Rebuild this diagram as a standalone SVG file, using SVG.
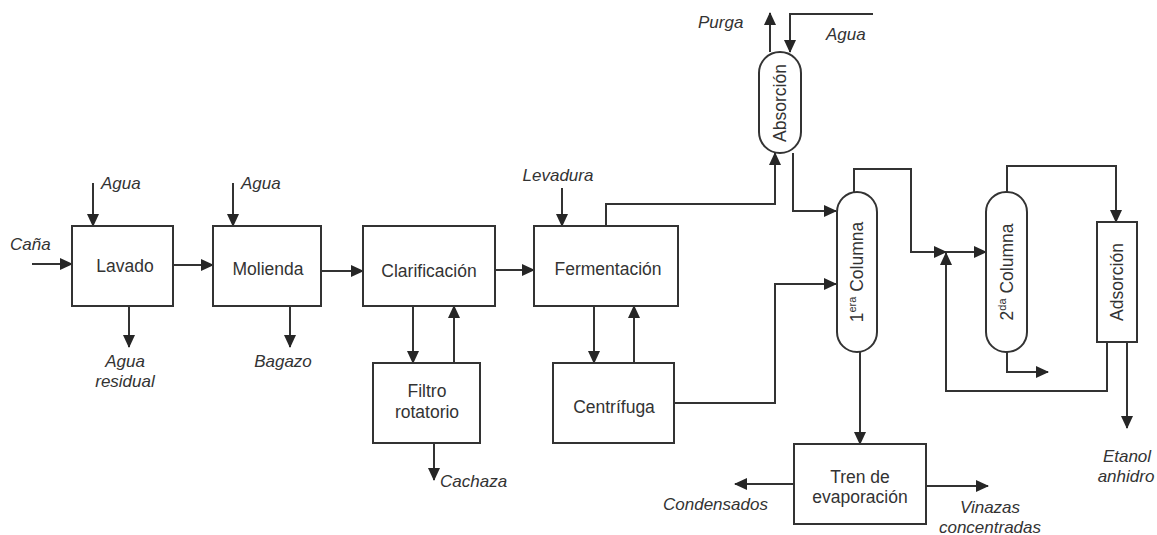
<svg xmlns="http://www.w3.org/2000/svg" width="1157" height="535" viewBox="0 0 1157 535">
<defs>
<marker id="ah" viewBox="0 0 13 12" refX="12" refY="6" markerWidth="13" markerHeight="12" markerUnits="userSpaceOnUse" orient="auto">
<path d="M0,0 L13,6 L0,12 z" fill="#262626"/>
</marker>
</defs>
<style>
.box{fill:#fff;stroke:#333;stroke-width:2}
.ln{fill:none;stroke:#333;stroke-width:2}
.ar{fill:none;stroke:#333;stroke-width:2;marker-end:url(#ah)}
.t{font-family:"Liberation Sans",Arial,sans-serif;font-size:17.5px;fill:#333;text-anchor:middle}
.i{font-family:"Liberation Sans",Arial,sans-serif;font-size:17px;fill:#333;font-style:italic}
.sup{font-size:11px}
</style>
<rect width="1157" height="535" fill="#fff"/>
<g id="connectors">
<path class="ar" d="M32,264 H72"/>
<path class="ar" d="M93,183 V226"/>
<path class="ar" d="M173,265 H213"/>
<path class="ar" d="M129,306 V347"/>
<path class="ar" d="M233,183 V226"/>
<path class="ar" d="M290,306 V347"/>
<path class="ar" d="M321,271 H363"/>
<path class="ar" d="M495,270 H534"/>
<path class="ar" d="M413,306 V363"/>
<path class="ar" d="M454,363 V306"/>
<path class="ar" d="M434,443 V480"/>
<path class="ar" d="M562,188 V226"/>
<path class="ar" d="M594,306 V363"/>
<path class="ar" d="M634,363 V306"/>
<path class="ar" d="M606,226 V204 H775 V153"/>
<path class="ar" d="M770,52 V13"/>
<path class="ar" d="M873,14 H790 V52"/>
<path class="ar" d="M793,153 V211 H836"/>
<path class="ar" d="M674,403 H775 V284 H836"/>
<path class="ar" d="M854,192 V169 H911 V252 H946"/>
<path class="ar" d="M946,252 H986"/>
<path class="ar" d="M1107,342 V391 H946 V253"/>
<path class="ar" d="M1007,192 V166 H1116 V222"/>
<path class="ar" d="M1007,352 V372 H1048"/>
<path class="ar" d="M1127,342 V428"/>
<path class="ar" d="M860,352 V444"/>
<path class="ar" d="M794,484 H735"/>
<path class="ar" d="M926,486 H988"/>
</g>
<g id="lavado"><rect class="box" x="72" y="226" width="101" height="80"/><text class="t" x="125" y="272">Lavado</text></g>
<g id="molienda"><rect class="box" x="213" y="226" width="108" height="80"/><text class="t" x="268" y="275">Molienda</text></g>
<g id="clarificacion"><rect class="box" x="363" y="226" width="132" height="80"/><text class="t" x="429" y="277">Clarificación</text></g>
<g id="fermentacion"><rect class="box" x="534" y="226" width="144" height="80"/><text class="t" x="608" y="275">Fermentación</text></g>
<g id="filtro"><rect class="box" x="373" y="363" width="107" height="80"/><text class="t" x="427" y="397">Filtro</text><text class="t" x="427" y="418">rotatorio</text></g>
<g id="centrifuga"><rect class="box" x="553" y="363" width="121" height="80"/><text class="t" x="614" y="413">Centrífuga</text></g>
<g id="absorcion"><rect class="box" x="759" y="52" width="42" height="101" rx="21" ry="21"/><text class="t" transform="translate(786,103) rotate(-90)">Absorción</text></g>
<g id="columna1"><rect class="box" x="837" y="192" width="40" height="160" rx="20" ry="20"/><text class="t" transform="translate(863,272) rotate(-90)">1<tspan class="sup" dy="-7">era</tspan><tspan dy="7"> Columna</tspan></text></g>
<g id="columna2"><rect class="box" x="986" y="192" width="41" height="160" rx="20" ry="20"/><text class="t" transform="translate(1013,272) rotate(-90)">2<tspan class="sup" dy="-7">da</tspan><tspan dy="7"> Columna</tspan></text></g>
<g id="adsorcion"><rect class="box" x="1097" y="222" width="40" height="120"/><text class="t" transform="translate(1123,282) rotate(-90)">Adsorción</text></g>
<g id="tren"><rect class="box" x="794" y="444" width="132" height="80"/><text class="t" x="860" y="483">Tren de</text><text class="t" x="860" y="503">evaporación</text></g>
<g id="labels">
<text class="i" x="10" y="250">Caña</text>
<text class="i" x="101" y="189">Agua</text>
<text class="i" x="241" y="189">Agua</text>
<text class="i" x="125" y="367" text-anchor="middle">Agua</text>
<text class="i" x="125" y="387" text-anchor="middle">residual</text>
<text class="i" x="283" y="367" text-anchor="middle">Bagazo</text>
<text class="i" x="440" y="487">Cachaza</text>
<text class="i" x="558" y="181" text-anchor="middle">Levadura</text>
<text class="i" x="698" y="28">Purga</text>
<text class="i" x="826" y="40">Agua</text>
<text class="i" x="663" y="510">Condensados</text>
<text class="i" x="990" y="513" text-anchor="middle">Vinazas</text>
<text class="i" x="990" y="533" text-anchor="middle">concentradas</text>
<text class="i" x="1127" y="462" text-anchor="middle">Etanol</text>
<text class="i" x="1126" y="482" text-anchor="middle">anhidro</text>
</g>
</svg>
